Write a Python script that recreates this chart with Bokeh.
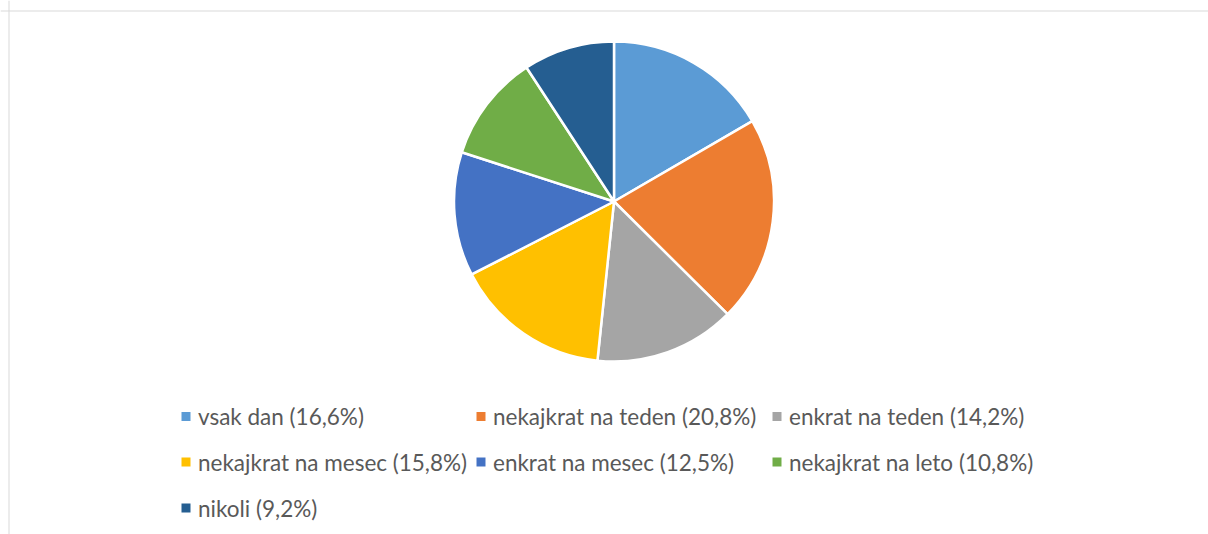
import math
from bokeh.plotting import figure
from bokeh.models import Range1d, Span, ColumnDataSource
from bokeh.core.properties import value
from bokeh.embed import file_html
from bokeh.resources import INLINE

categories = ["vsak dan", "nekajkrat na teden", "enkrat na teden",
              "nekajkrat na mesec", "enkrat na mesec", "nekajkrat na leto", "nikoli"]
values = [16.6, 20.8, 14.2, 15.8, 12.5, 10.8, 9.2]
colors = ["#5B9BD5", "#ED7D31", "#A5A5A5", "#FFC000", "#4472C4", "#70AD47", "#255E91"]

W, H = 1208, 534
p = figure(width=W, height=H, output_backend="svg", toolbar_location=None,
           x_range=Range1d(0, W), y_range=Range1d(0, H), min_border=0)
p.axis.visible = False
p.grid.visible = False
p.outline_line_color = None
p.background_fill_color = "white"
p.border_fill_color = "white"

# chart border (top and left visible)
p.add_layout(Span(location=8.5, dimension="height", line_color="#D9D9D9", line_width=1))
p.add_layout(Span(location=H - 10.5, dimension="width", line_color="#D9D9D9", line_width=1))

# pie
total = sum(values)
cx, cy, r = 613.5, H - 201, 160
starts, ends = [], []
cum = 0.0
for v in values:
    a0 = math.pi / 2 - cum / total * 2 * math.pi
    cum += v
    a1 = math.pi / 2 - cum / total * 2 * math.pi
    starts.append(a0)
    ends.append(a1)
src = ColumnDataSource(dict(start=starts, end=ends, color=colors))
p.wedge(x=cx, y=cy, radius=r, radius_units="screen", start_angle="start", end_angle="end",
        direction="clock", fill_color="color", line_color="white", line_width=2.5, source=src)

# legend
labels = [f"{c} ({str(v).replace('.', ',')}%)" for c, v in zip(categories, values)]
col_x = [181, 476, 772]
row_y = [H - 416, H - 461.5, H - 507.5]
mx, my, tx, ty = [], [], [], []
for i in range(len(labels)):
    col, row = i % 3, i // 3
    mx.append(col_x[col] + 4.5)
    my.append(row_y[row])
    tx.append(col_x[col] + 16.5)
    ty.append(row_y[row])
leg = ColumnDataSource(dict(mx=mx, my=my, tx=tx, ty=ty, color=colors, label=labels))
p.scatter(x="mx", y="my", size=9, marker="square", fill_color="color", line_color=None, source=leg)
p.text(x="tx", y="ty", text="label", text_font=value("Lato"), text_font_size="22.5px",
       text_color="#595959", text_baseline="middle", text_align="left", source=leg)

open("out.html", "w").write(file_html(p, INLINE))
